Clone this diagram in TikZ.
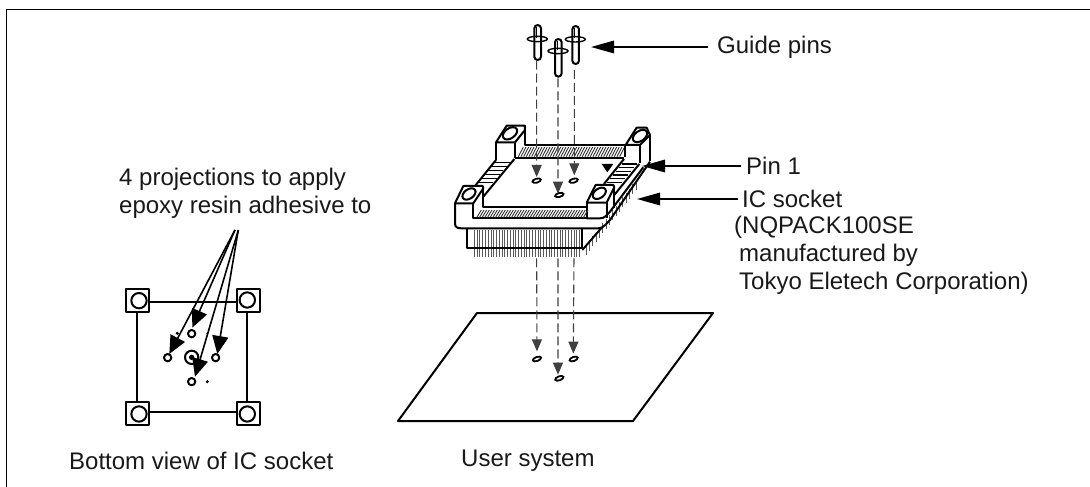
\documentclass[tikz,border=0pt]{standalone}
\usepackage{fontspec}
\setmainfont{Liberation Sans}
\usetikzlibrary{arrows.meta}
\tikzset{
  frameline/.style={line width=1.2pt,black},
  heavy/.style={line width=2pt,black,line join=round},
  lbl/.style={font=\fontsize{24}{28}\selectfont,anchor=west,inner sep=0pt,text=black!90},
  bigarrow/.style={line width=1.6pt,-{Triangle[length=23pt,width=12.5pt]}},
  midarrow/.style={line width=1.6pt,-{Triangle[length=18pt,width=16pt]}},
  dropline/.style={line width=1.1pt,black!75,dash pattern=on 9pt off 4pt},
  droparrow/.style={dropline,-{Triangle[length=12pt,width=10pt]}},
  hole/.style={line width=1.8pt,black,fill=white},
  pinline/.style={line width=.8pt,black!65},
  hatchline/.style={line width=.9pt,black!80},
}
\begin{document}
\begin{tikzpicture}[x=1pt,y=-1pt]
\useasboundingbox (0,0) rectangle (1090,487);
\fill[white] (0,0) rectangle (1090,487);
\draw[frameline] (6.5,487) -- (6.5,9.5) -- (1090,9.5);

% ---- guide pins
\begin{scope}[xshift=510pt,yshift=-10pt,x=.3333pt,y=-.3333pt]
  \foreach \cx/\ty/\by/\fy in {83/45/150/87,145/87/200/123,197/48/162/88}{
    \draw[heavy,fill=white] (\cx-10,\by-10) -- (\cx-10,\ty+10) arc[start angle=180,end angle=360,radius=10] -- (\cx+10,\by-10) arc[start angle=0,end angle=180,radius=10] -- cycle;
    \draw[line width=1.4pt] (\cx-1,\fy) ellipse[x radius=30,y radius=8];
    \draw[line width=.8pt] (\cx-3,\ty+6) -- (\cx-3,\fy-4);
  }
  \coordinate (gpa) at (80,152);
  \coordinate (gpb) at (144,205);
  \coordinate (gpc) at (193,180);
\end{scope}

% ---- socket
\begin{scope}[xshift=430pt,yshift=-80pt,x=.3333pt,y=-.3333pt]
  % pins, front and right
  \foreach \i in {0,...,38}{\draw[pinline] ({133+8.3*\i},450) -- ({133+8.3*\i},530);}
  \foreach \i in {0,...,15}{\draw[pinline] ({468+10*\i},{495-13*\i}) -- ({468+10*\i},{525-13*\i});}
  % body under the plate
  \draw[heavy] (110,447) -- (110,505) -- (457,505) -- (457,447);
  \draw[heavy] (457,510) -- (515,443);
  % plate outline
  \draw[heavy] (75,370) -- (75,430) .. controls (75,442) and (82,445) .. (95,445) -- (505,445) .. controls (520,445) and (530,430) .. (540,420) -- (660,245);
  % floor
  \draw[heavy] (130,370) -- (130,415) -- (470,415) -- (470,370);
  \draw[heavy] (470,415) -- (510,415) .. controls (525,415) and (530,405) .. (540,395) -- (640,262);
  \draw[heavy] (160,322) -- (160,382) -- (470,382);
  % hatched bands
  \foreach \i in {0,...,40}{\draw[hatchline] ({140+8*\i},413) -- ({154+8*\i},390);}
  \foreach \i in {0,...,38}{\draw[hatchline] ({265+8*\i},230) -- ({280+8*\i},201);}
  % left and right striped strips
  \foreach \i in {0,...,5}{
    \draw[line width=1.6pt] ({190-10*\i},{247+12*\i}) -- ({240-10*\i},{247+12*\i});
    \draw[line width=1.6pt] ({575-9*\i},{252+11*\i}) -- ({622-9*\i},{252+11*\i});
  }
  % back edge
  \draw[heavy] (285,137) -- (285,195) -- (585,195) -- (585,232);
  \draw[heavy] (255,235) -- (582,235);
  % strip edges
  \draw[heavy] (198,240) -- (135,318);
  \draw[heavy] (253,237) -- (160,350);
  \draw[heavy] (582,237) -- (522,312);
  \draw[heavy] (628,252) -- (553,345);
  % posts
  \draw[heavy,fill=white] (198,187) -- (230,137) -- (285,137) -- (285,150) -- (255,187) -- cycle;
  \draw[heavy] (198,187) -- (198,240); \draw[heavy] (255,187) -- (255,235);
  \draw[heavy,fill=white] (240,160) ellipse[x radius=24,y radius=15,rotate=35];
  \draw[heavy,fill=white] (587,195) -- (620,143) -- (650,143) -- (660,165) -- (630,195) -- cycle;
  \draw[heavy] (630,195) -- (630,250); \draw[heavy] (660,165) -- (660,243);
  \draw[heavy,fill=white] (630,168) ellipse[x radius=24,y radius=15,rotate=35];
  \draw[heavy,fill=white] (75,370) -- (100,318) -- (158,318) -- (160,325) -- (130,370) -- cycle;
  \draw[heavy,fill=white] (117,342) ellipse[x radius=22,y radius=14,rotate=35];
  \draw[heavy,fill=white] (470,368) -- (497,315) -- (550,315) -- (553,322) -- (530,368) -- cycle;
  \draw[heavy] (530,368) -- (530,415); \draw[heavy] (553,322) -- (553,385);
  \draw[heavy,fill=white] (508,340) ellipse[x radius=22,y radius=14,rotate=35];
  % pin 1 mark
  \fill (515,252) -- (550,252) -- (532,277) -- cycle;
  % holes in the socket
  \draw[hole] (320,302) ellipse[x radius=13,y radius=6,rotate=15];
  \draw[hole] (388,345) ellipse[x radius=13,y radius=6,rotate=15];
  \draw[hole] (431,302) ellipse[x radius=13,y radius=6,rotate=15];
  \coordinate (sta) at (320,291);
  \coordinate (stb) at (384,341);
  \coordinate (stc) at (433,286);
  \coordinate (spa) at (320,535);
  \coordinate (spb) at (384,535);
  \coordinate (spc) at (432,535);
\end{scope}

% ---- user system
\coordinate (ua) at (477,313);
\coordinate (ub) at (713,313);
\coordinate (uc) at (633,421);
\coordinate (ud) at (398,421);
\draw[line width=2pt,line join=round] (ua) -- (ub) -- (uc) -- (ud) -- cycle;
\begin{scope}[xshift=390pt,yshift=-260pt,x=.3333pt,y=-.3333pt]
  \draw[hole] (441,297) ellipse[x radius=13,y radius=6,rotate=20];
  \draw[hole] (508,355) ellipse[x radius=13,y radius=6,rotate=20];
  \draw[hole] (551,297) ellipse[x radius=13,y radius=6,rotate=20];
  \coordinate (uta) at (441,274);
  \coordinate (utb) at (504,344);
  \coordinate (utc) at (550,281);
\end{scope}

% ---- dashed drop lines
\draw[droparrow] (gpa) -- (sta);
\draw[droparrow] (gpb) -- (stb);
\draw[droparrow] (gpc) -- (stc);
\draw[droparrow] (spa) -- (uta);
\draw[droparrow] (spb) -- (utb);
\draw[droparrow] (spc) -- (utc);

% ---- bottom view
\begin{scope}[xshift=110pt,yshift=-280pt,x=.3333pt,y=-.3333pt]
  \draw[heavy] (118,67) -- (380,67);
  \draw[heavy] (118,397) -- (380,397);
  \draw[heavy] (82,95) -- (82,367);
  \draw[heavy] (412,95) -- (412,367);
  \foreach \a/\b/\cx/\cy in {48/27/87/62,380/27/412/60,48/367/87/402,380/367/412/402}{
    \draw[heavy] (\a,\b) rectangle (\a+70,\b+69);
    \draw[heavy,fill=white] (\cx,\cy) circle[radius=23];
  }
  \draw[heavy] (245,232) circle[radius=20];
  \fill (245,232) circle[radius=8];
  \foreach \cx/\cy in {245/161,173/233,317/233,245/305}{
    \draw[heavy] (\cx,\cy) circle[radius=11];
  }
  \fill (292,305) circle[radius=5];
  \fill (202,160) circle[radius=5];
  \fill (292,160) circle[radius=3];
  \coordinate (oa) at (375,-150);
  \coordinate (ob) at (385,-150);
  \coordinate (ta) at (178,222);
  \coordinate (tb) at (247,143);
  \coordinate (tc) at (322,222);
  \coordinate (td) at (255,290);
\end{scope}
\draw[midarrow] (oa) -- (ta);
\draw[midarrow] (oa) -- (tb);
\draw[midarrow] (ob) -- (tc);
\draw[midarrow] (ob) -- (td);

% ---- labels
\node[lbl] (lproj) at (119,179) {4 projections to apply};
\node[lbl] (lepoxy) at (119,207) {epoxy resin adhesive to};
\node[lbl] (lbottom) at (69,461) {Bottom view of IC socket};
\node[lbl] (luser) at (461,461) {User system};
\node[lbl] (lguide) at (717,47) {Guide pins};
\node[lbl] (lpin) at (746,166) {Pin 1};
\node[lbl] (lsock) at (742,199) {IC socket};
\node[lbl] (lnq) at (734,227) {(NQPACK100SE};
\node[lbl] (lman) at (739,255) {manufactured by};
\node[lbl] (ltok) at (739,283) {Tokyo Eletech Corporation)};
\coordinate (tguide) at (591,47);
\coordinate (tpin) at (642,166);
\coordinate (tsock) at (637,199);
\draw[bigarrow] ([xshift=-9pt]lguide.west) -- (tguide);
\draw[bigarrow] ([xshift=-5pt]lpin.west) -- (tpin);
\draw[bigarrow] ([xshift=-4pt]lsock.west) -- (tsock);
\end{tikzpicture}
\end{document}
